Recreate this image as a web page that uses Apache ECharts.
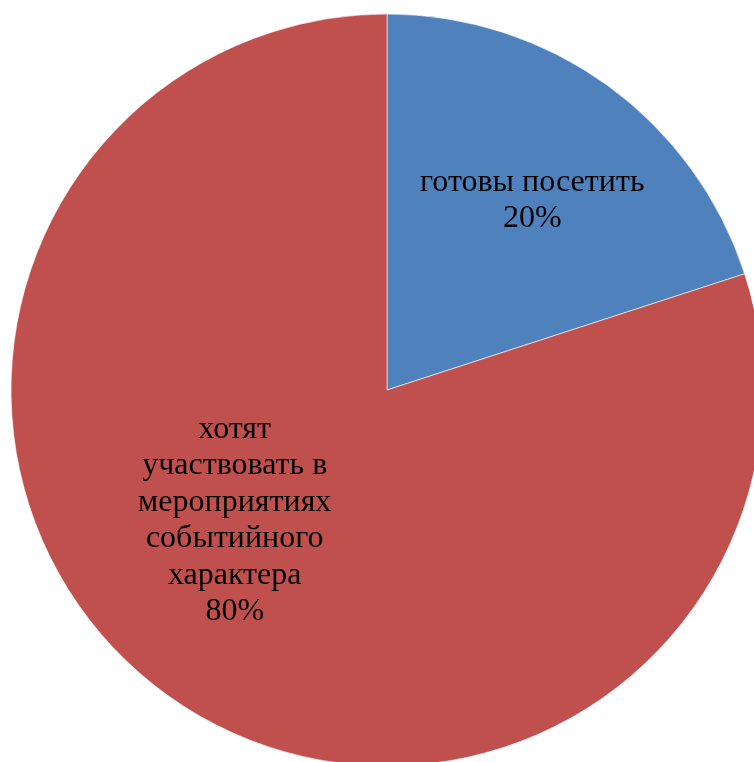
<!DOCTYPE html>
<html>
<head>
<meta charset="utf-8">
<script src="https://cdn.jsdelivr.net/npm/echarts@6/dist/echarts.min.js"></script>
<style>html,body{margin:0;padding:0;background:#fff;}#c{width:754px;height:762px;}</style>
</head>
<body>
<div id="c"></div>
<script>
var categories = ['готовы посетить', 'хотят\nучаствовать в\nмероприятиях\nсобытийного\nхарактера'];
var values = [20, 80];
var colors = ['#4F81BD', '#C0504D'];
var labelShift = [[33, -35], [-40, -24]];

var chart = echarts.init(document.getElementById('c'), null, {renderer: 'canvas'});
chart.setOption({
  animation: false,
  backgroundColor: '#ffffff',
  series: [{
    type: 'pie',
    center: [387, 390],
    radius: [0, 376],
    startAngle: 90,
    clockwise: true,
    avoidLabelOverlap: false,
    silent: true,
    itemStyle: {borderColor: '#ffffff', borderWidth: 0.6},
    label: {
      show: true,
      position: 'inside',
      formatter: '{b}\n{d}%',
      color: '#000000',
      fontFamily: '"Liberation Serif", "Times New Roman", serif',
      fontSize: 32,
      lineHeight: 36.5,
      align: 'center'
    },
    labelLine: {show: false},
    labelLayout: function (p) {
      var s = labelShift[p.dataIndex];
      return {dx: s[0], dy: s[1]};
    },
    data: categories.map(function (n, i) {
      return {name: n, value: values[i], itemStyle: {color: colors[i]}};
    })
  }]
});
</script>
</body>
</html>
